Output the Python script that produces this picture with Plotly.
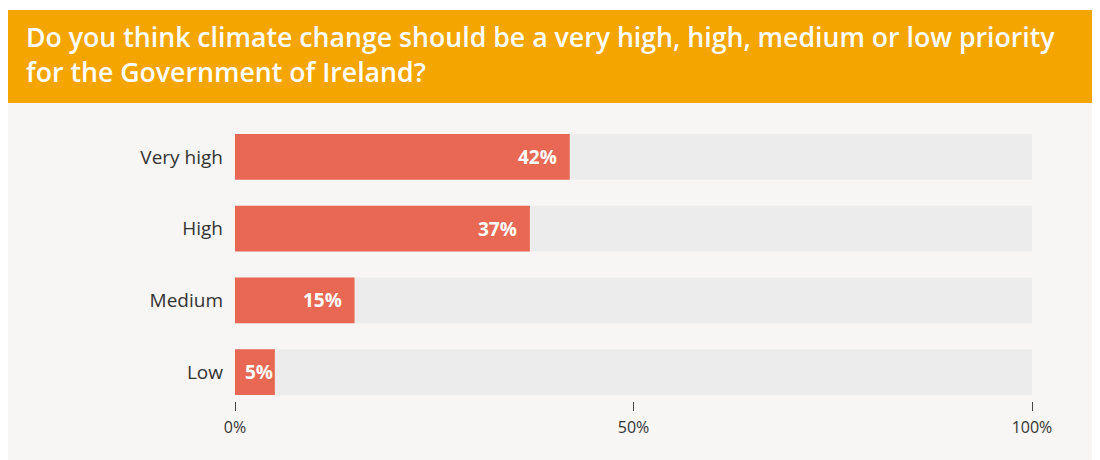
import plotly.graph_objects as go

categories = ["Very high", "High", "Medium", "Low"]
values = [42, 37, 15, 5]
full = [100, 100, 100, 100]
tick_vals = [0, 50, 100]
tick_text = ["0%", "50%", "100%"]
title_text = ("Do you think climate change should be a very high, high, medium or low priority"
              "<br>for the Government of Ireland?")

W, H = 1100, 460
PL, PR, PT, PB = 227, 1024, 113, 393
PW, PH = PR - PL, PB - PT


def px(x):
    return (x - PL) / PW


def py(y):
    return (PB - y) / PH


fig = go.Figure()
fig.add_trace(go.Bar(
    y=categories, x=full, orientation="h", width=0.64,
    marker=dict(color="#ececec", line=dict(width=0)),
    hoverinfo="skip", showlegend=False,
))
fig.add_trace(go.Bar(
    y=categories, x=values, orientation="h", width=0.64,
    marker=dict(color="#e86853", line=dict(width=0)),
    showlegend=False,
))

annotations = [dict(
    text=title_text, xref="paper", yref="paper",
    x=px(16), y=py(46), xanchor="left", yanchor="middle",
    align="left", showarrow=False,
    font=dict(family="Open Sans", size=26.7, color="white", weight=600),
)]
label_font = dict(family="Open Sans", size=19, color="white", weight=700)
for c, v in zip(categories, values):
    bar_px = v / 100 * PW
    text_w = 14 * len(f"{v}%") - 3
    if bar_px < text_w + 22:
        annotations.append(dict(
            x=0, y=c, xref="x", yref="y", text=f"{v}%", showarrow=False,
            xanchor="left", yanchor="middle", xshift=8, font=label_font,
        ))
    else:
        annotations.append(dict(
            x=v, y=c, xref="x", yref="y", text=f"{v}%", showarrow=False,
            xanchor="right", yanchor="middle", xshift=-11, font=label_font,
        ))

fig.update_layout(
    width=W, height=H,
    barmode="overlay",
    paper_bgcolor="white", plot_bgcolor="rgba(0,0,0,0)",
    margin=dict(l=PL, r=W - PR, t=PT, b=H - PB, autoexpand=False),
    font=dict(family="Open Sans", color="#333333"),
    xaxis=dict(range=[0, 100], tickvals=tick_vals, ticktext=tick_text,
               ticks="outside", ticklen=9, tickwidth=1, tickcolor="#444444",
               ticklabelstandoff=3,
               showgrid=False, zeroline=False, showline=False,
               tickfont=dict(size=16, color="#333333"), fixedrange=True),
    yaxis=dict(categoryorder="array", categoryarray=categories[::-1],
               range=[-0.403, 3.5], showgrid=False, zeroline=False, showline=False,
               ticks="", ticklabelstandoff=11,
               tickfont=dict(size=19, color="#333333"), fixedrange=True),
    shapes=[
        dict(type="rect", xref="paper", yref="paper", layer="below",
             x0=px(0), x1=px(W), y0=py(H), y1=py(95),
             fillcolor="#f7f6f4", line=dict(width=0)),
        dict(type="rect", xref="paper", yref="paper", layer="below",
             x0=px(0), x1=px(W), y0=py(95), y1=py(2),
             fillcolor="#f5a500", line=dict(width=0)),
    ],
    annotations=annotations,
)

fig.write_html("out.html")
